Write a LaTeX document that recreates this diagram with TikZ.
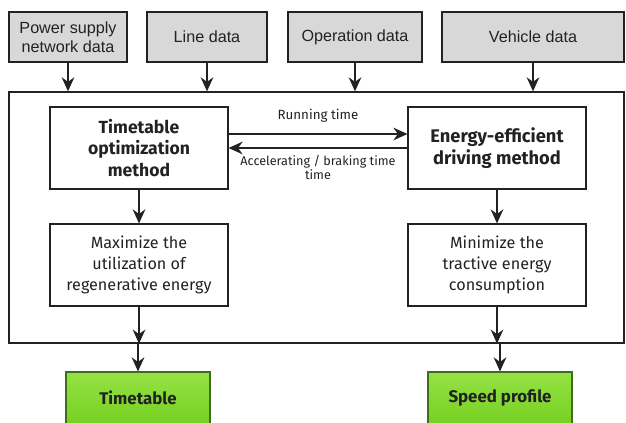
\documentclass[tikz,border=0pt]{standalone}
\usepackage{fontspec}
\setmainfont{Fira Sans}
\newfontfamily\datafont{Liberation Sans}
\usetikzlibrary{arrows.meta}

\definecolor{ink}{HTML}{222222}
\definecolor{boxgray}{HTML}{D8D8D8}
\definecolor{leaf}{HTML}{78D022}
\definecolor{leaflight}{HTML}{94E244}
\definecolor{leafedge}{HTML}{3D6E1E}

\tikzset{
  databox/.style={draw=ink, fill=boxgray, line width=0.8pt, align=center, text=ink,
    minimum height=1.25cm, inner sep=0pt, font=\datafont\fontsize{11.5}{13.5}\selectfont},
  stagebox/.style={draw=ink, fill=white, line width=0.8pt, align=center, text=ink,
    minimum width=4.45cm, minimum height=2.05cm, inner sep=0pt},
  resultbox/.style={draw=leafedge, line width=0.8pt, top color=leaflight, bottom color=leaf,
    minimum width=3.6cm, minimum height=1.3cm, text=ink,
    font=\bfseries\fontsize{12}{14}\selectfont},
  flow/.style={draw=ink, line width=1.3pt, -{Stealth[length=10pt,width=9pt]}},
}

\begin{document}
\begin{tikzpicture}
  \useasboundingbox (0,0) rectangle (15.65,-10.575);

  % input data
  \node[databox, minimum width=2.95cm] (power) at (1.7,-0.925) {Power supply\\network data};
  \node[databox, minimum width=3.0cm] (line) at (5.175,-0.925) {Line data};
  \node[databox, minimum width=3.35cm] (oper) at (8.875,-0.925) {Operation data};
  \node[databox, minimum width=4.55cm] (vehicle) at (13.325,-0.925) {Vehicle data};

  % outer frame
  \node[draw=ink, line width=0.9pt, minimum width=15.375cm, minimum height=6.275cm,
    inner sep=0pt] (frame) at (7.9125,-5.4375) {};

  % optimization stages
  \node[stagebox, font=\bfseries\fontsize{12.5}{15}\selectfont] (timeopt) at (3.475,-3.7)
    {Timetable\\optimization\\method};
  \node[stagebox, font=\bfseries\fontsize{13}{15.5}\selectfont] (drive) at (12.425,-3.7)
    {Energy-efficient\\driving method};
  \node[stagebox, font=\fontsize{11.5}{15}\selectfont] (regen) at (3.475,-6.625)
    {Maximize the\\utilization of\\regenerative energy};
  \node[stagebox, font=\fontsize{11.5}{15}\selectfont] (tractive) at (12.425,-6.625)
    {Minimize the\\tractive energy\\consumption};

  % outputs
  \node[resultbox] (timetable) at (3.45,-9.95) {Timetable};
  \node[resultbox] (speed) at (12.5,-9.95) {Speed profile};

  % data into the frame
  \draw[flow] (power.south) -- (power.south |- frame.north);
  \draw[flow] (line.south) -- (line.south |- frame.north);
  \draw[flow] (oper.south) -- (oper.south |- frame.north);
  \draw[flow] (vehicle.south) -- (vehicle.south |- frame.north);

  % exchange between the two methods
  \draw[flow] ([yshift=3.5mm]timeopt.east) -- ([yshift=3.5mm]drive.west)
    node[midway, above=4pt, text=ink, font=\fontsize{9.5}{11}\selectfont] {Running time};
  \draw[flow] (drive.west) -- (timeopt.east)
    node[midway, below=1pt, align=center, text=ink, font=\fontsize{9}{10}\selectfont]
    {Accelerating / braking time\\time};

  % down to the results
  \draw[flow] (timeopt.south) -- (regen.north);
  \draw[flow] (drive.south) -- (tractive.north);
  \draw[flow] (regen.south) -- (regen.south |- frame.south);
  \draw[flow] (tractive.south) -- (tractive.south |- frame.south);
  \draw[flow] (timetable.north |- frame.south) -- (timetable.north);
  \draw[flow] (speed.north |- frame.south) -- (speed.north);
\end{tikzpicture}
\end{document}
